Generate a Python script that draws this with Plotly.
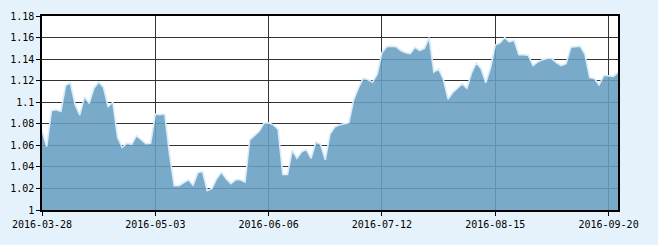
import pandas as pd
import plotly.graph_objects as go

# Trading days (China) 2016-03-28 .. 2016-09-22
holidays = ["2016-04-04", "2016-05-02", "2016-06-09", "2016-06-10", "2016-09-15", "2016-09-16"]
dates = [d.strftime("%Y-%m-%d") for d in pd.bdate_range("2016-03-28", "2016-09-22") if d.strftime("%Y-%m-%d") not in holidays]

values = [
    1.0735, 1.059, 1.092, 1.093, 1.0915, 1.1155, 1.118, 1.098, 1.088, 1.105,
    1.099, 1.113, 1.1185, 1.114, 1.096, 1.100, 1.0675, 1.058, 1.062, 1.061,
    1.069, 1.065, 1.0615, 1.062, 1.089, 1.0885, 1.089, 1.052, 1.0225, 1.0225,
    1.025, 1.028, 1.023, 1.0345, 1.0357, 1.018, 1.020, 1.029, 1.035, 1.029,
    1.0245, 1.028, 1.028, 1.026, 1.065, 1.069, 1.073, 1.0805, 1.081, 1.079,
    1.075, 1.033, 1.033, 1.0555, 1.048, 1.054, 1.056, 1.048, 1.063, 1.061,
    1.0465, 1.0705, 1.077, 1.079, 1.080, 1.081, 1.102, 1.113, 1.122, 1.121,
    1.1185, 1.126, 1.146, 1.1515, 1.152, 1.1515, 1.148, 1.146, 1.145, 1.151,
    1.148, 1.150, 1.160, 1.128, 1.131, 1.1215, 1.103, 1.109, 1.113, 1.117,
    1.113, 1.1275, 1.1365, 1.131, 1.118, 1.132, 1.153, 1.155, 1.160, 1.156,
    1.1575, 1.144, 1.144, 1.1435, 1.134, 1.1374, 1.1395, 1.1405, 1.1405, 1.1365,
    1.134, 1.1358, 1.151, 1.1515, 1.152, 1.1445, 1.1228, 1.122, 1.116, 1.125,
    1.1245, 1.124, 1.1275,
]

tick_labels = ["2016-03-28", "2016-05-03", "2016-06-06", "2016-07-12", "2016-08-15", "2016-09-20"]
y_ticks = [1, 1.02, 1.04, 1.06, 1.08, 1.1, 1.12, 1.14, 1.16, 1.18]
y_tick_text = ["1", "1.02", "1.04", "1.06", "1.08", "1.1", "1.12", "1.14", "1.16", "1.18"]

fig = go.Figure()
fig.add_trace(go.Scatter(
    x=dates, y=values, mode="lines", fill="tozeroy",
    fillcolor="rgba(102,158,194,0.88)",
    line=dict(color="rgba(215,235,248,1)", width=1.6),
    hoverinfo="x+y",
))

font = dict(family="DejaVu Sans Mono, monospace", size=10, color="#000")
fig.update_layout(
    width=658, height=245,
    margin=dict(l=39, r=40, t=10, b=35),
    paper_bgcolor="#e6f2fb",
    plot_bgcolor="#ffffff",
    showlegend=False,
    font=font,
    xaxis=dict(
        type="category", range=[0, len(dates) - 1],
        tickmode="array", tickvals=tick_labels, ticktext=tick_labels,
        showgrid=True, gridcolor="#333333", gridwidth=1,
        showline=True, linecolor="#000", linewidth=1.5, mirror=True,
        ticks="outside", ticklen=4, tickcolor="#000",
        tickfont=font, zeroline=False,
    ),
    yaxis=dict(
        range=[1, 1.18], tickmode="array", tickvals=y_ticks, ticktext=y_tick_text,
        showgrid=True, gridcolor="#333333", gridwidth=1,
        showline=True, linecolor="#000", linewidth=1.5, mirror=True,
        ticks="outside", ticklen=4, tickcolor="#000",
        tickfont=font, zeroline=False,
    ),
)
fig.write_html("out.html")
